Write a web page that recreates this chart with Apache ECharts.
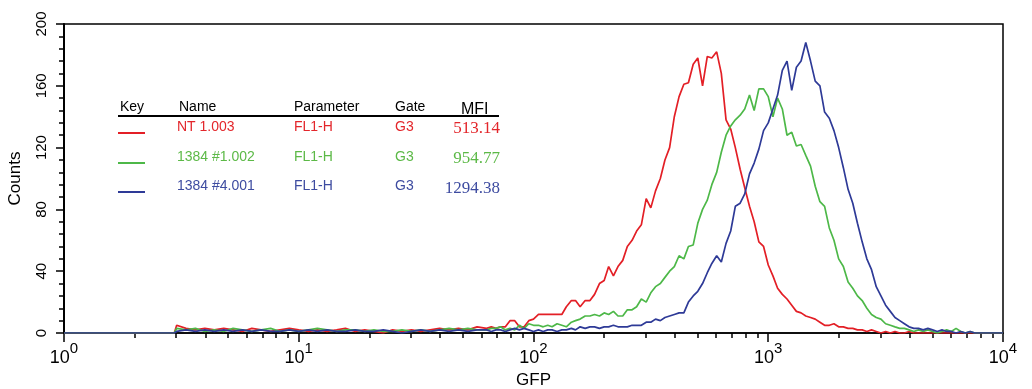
<!DOCTYPE html>
<html>
<head>
<meta charset="UTF-8">
<title>GFP histogram</title>
<script src="https://cdn.jsdelivr.net/npm/echarts@6/dist/echarts.min.js"></script>
<style>
  html, body { margin: 0; padding: 0; background: #fff; }
  #chart { width: 1032px; height: 389px; }
</style>
</head>
<body>
<div id="chart"></div>
<script>
// GFP channel values (log spaced), shared by all three histograms
const gfp = [1, 2.95,
  3.02, 3.31, 3.63, 3.98, 4.37, 4.79, 5.25, 5.75, 6.31, 6.92, 7.59, 8.32, 9.12, 10.0, 11.0, 12.0, 13.2,
  14.5, 15.8, 17.4, 19.1, 20.9, 22.9, 25.1, 27.5, 30.2, 33.1, 36.3, 39.8, 43.7, 47.9, 52.5, 57.5,
  63.1, 66.1, 69.2, 72.4, 75.9, 79.4, 83.2, 87.1, 91.2, 95.5,
  100, 105, 110, 115, 120, 126, 132, 138, 145, 151,
  158, 166, 174, 182, 191, 200, 209, 219, 229, 240,
  251, 263, 275, 288, 302, 316, 331, 347, 363, 380,
  398, 417, 437, 457, 479, 501, 525, 550, 575, 603,
  631, 661, 692, 724, 759, 794, 832, 871, 912, 955,
  1000, 1047, 1096, 1148, 1202, 1259, 1318, 1380, 1445, 1514,
  1585, 1660, 1738, 1820, 1905, 1995, 2089, 2188, 2291, 2399,
  2512, 2630, 2754, 2884, 3020, 3162, 3311, 3467, 3631, 3802,
  3981, 4169, 4365, 4571, 4786, 5012, 5248, 5495, 5754, 6026,
  6310, 6607, 6918, 7244, 7586, 7943,
  10000];

const ntCounts = [0, 0,
  5, 3, 2, 3, 2, 3, 2, 1, 3, 2, 1, 2, 3, 2, 1, 2, 1, 2, 3, 1, 2, 1, 0, 2, 1, 2, 1, 2, 3, 2, 3, 2, 4,
  3, 4, 3, 4, 4, 8, 8, 4, 4, 8,
  9, 12, 12, 12, 12, 12, 12, 17, 21, 21,
  17, 21, 21, 25, 32, 34, 43, 37, 43, 47,
  56, 60, 66, 70, 87, 81, 92, 100, 112, 120,
  140, 153, 161, 162, 174, 178, 160, 179, 178, 182,
  168, 138, 132, 120, 106, 94, 82, 72, 59, 56,
  44, 37, 29, 25, 22, 18, 14, 13, 11, 10,
  9, 7, 5, 5, 6, 4, 4, 3, 3, 2,
  2, 1, 2, 1, 0, 1, 0, 1, 0, 0,
  1, 0, 0, 0, 0, 0, 0, 0, 0, 0,
  0, 0, 0, 0, 0, 0,
  0];

const c1Counts = [0, 0,
  3, 2, 3, 1, 2, 1, 3, 2, 1, 2, 3, 1, 2, 1, 2, 3, 2, 1, 2, 2, 1, 2, 1, 1, 2, 1, 2, 1, 2, 3, 2, 3, 2,
  2, 3, 3, 4, 2, 3, 2, 5, 3, 6,
  5, 5, 4, 5, 4, 6, 5, 4, 7, 8,
  9, 11, 11, 12, 11, 13, 12, 14, 11, 11,
  15, 15, 17, 22, 20, 26, 30, 32, 36, 40,
  43, 50, 48, 56, 57, 71, 80, 86, 96, 104,
  117, 128, 134, 138, 141, 145, 154, 144, 158, 158,
  153, 140, 152, 145, 128, 130, 121, 122, 115, 108,
  95, 85, 82, 68, 60, 48, 43, 33, 29, 24,
  21, 16, 12, 10, 9, 6, 5, 4, 3, 3,
  2, 1, 2, 1, 2, 1, 0, 1, 2, 1,
  3, 1, 0, 1, 0, 0,
  0];

const c4Counts = [0, 0,
  1, 2, 1, 2, 1, 2, 1, 2, 1, 2, 1, 1, 2, 1, 2, 1, 2, 1, 1, 2, 1, 1, 2, 1, 0, 1, 2, 1, 2, 1, 2, 1, 2,
  2, 1, 2, 2, 1, 2, 3, 2, 3, 2,
  1, 2, 1, 2, 2, 1, 2, 2, 3, 2,
  4, 3, 4, 4, 3, 4, 4, 5, 4, 4,
  4, 5, 5, 5, 7, 7, 9, 8, 10, 11,
  12, 13, 13, 20, 24, 27, 32, 39, 45, 50,
  46, 58, 66, 82, 84, 90, 103, 110, 119, 131,
  136, 145, 154, 170, 176, 157, 172, 176, 188, 176,
  163, 160, 143, 139, 131, 120, 107, 93, 84, 71,
  59, 48, 41, 30, 24, 18, 14, 10, 8, 6,
  4, 3, 3, 2, 3, 2, 1, 2, 1, 1,
  0, 1, 0, 1, 0, 0,
  0];

const minorTicks = [2, 3, 4, 5, 6, 7, 8, 9, 20, 30, 40, 50, 60, 70, 80, 90,
  200, 300, 400, 500, 600, 700, 800, 900, 2000, 3000, 4000, 5000, 6000, 7000, 8000, 9000];

// legend table
const names = ['NT 1.003', '1384 #1.002', '1384 #4.001'];
const params = ['FL1-H', 'FL1-H', 'FL1-H'];
const gates = ['G3', 'G3', 'G3'];
const mfi = ['513.14', '954.77', '1294.38'];
const lineColors = ['#e31f26', '#4db848', '#2e3a97'];
const textColors = ['#e3262b', '#5cb947', '#3d4ba0'];

const chart = echarts.init(document.getElementById('chart'));

const SANS = '"Liberation Sans", Arial, sans-serif';
const SERIF = '"Liberation Serif", "Times New Roman", serif';

function mkSeries(counts, i) {
  return {
    type: 'line',
    xAxisIndex: 0,
    data: gfp.map((g, k) => [g, counts[k]]),
    showSymbol: false,
    lineStyle: { color: lineColors[i], width: 1.7 },
    itemStyle: { color: lineColors[i] },
    z: 2 + i
  };
}

const rowY = [127, 157, 186];
const mfiY = [129, 159, 189];
const keyY = [133, 163, 192];
const graphics = [];
[['Key', 120], ['Name', 179], ['Parameter', 294], ['Gate', 395]].forEach(h => {
  graphics.push({ type: 'text', x: h[1], y: 107,
    style: { text: h[0], fill: '#000', font: '14px ' + SANS, verticalAlign: 'middle' } });
});
graphics.push({ type: 'text', x: 461, y: 110,
  style: { text: 'MFI', fill: '#000', font: '16px ' + SANS, verticalAlign: 'middle' } });
graphics.push({ type: 'line', shape: { x1: 118, y1: 116, x2: 499, y2: 116 },
  style: { stroke: '#000', lineWidth: 2 } });
names.forEach((n, i) => {
  graphics.push({ type: 'line', shape: { x1: 118, y1: keyY[i], x2: 145, y2: keyY[i] },
    style: { stroke: lineColors[i], lineWidth: 2 } });
  graphics.push({ type: 'text', x: 177, y: rowY[i],
    style: { text: n, fill: textColors[i], font: '14px ' + SANS, verticalAlign: 'middle' } });
  graphics.push({ type: 'text', x: 294, y: rowY[i],
    style: { text: params[i], fill: textColors[i], font: '14px ' + SANS, verticalAlign: 'middle' } });
  graphics.push({ type: 'text', x: 395, y: rowY[i],
    style: { text: gates[i], fill: textColors[i], font: '14px ' + SANS, verticalAlign: 'middle' } });
  graphics.push({ type: 'text', x: 500, y: mfiY[i],
    style: { text: mfi[i], fill: textColors[i], font: '17px ' + SERIF,
      align: 'right', verticalAlign: 'middle' } });
});

chart.setOption({
  animation: false,
  backgroundColor: '#fff',
  grid: { left: 64, right: 29, top: 24, bottom: 56, show: true, outerBoundsMode: 'none',
    borderColor: '#000', borderWidth: 1.5 },
  xAxis: [{
    type: 'log', logBase: 10, min: 1, max: 10000,
    name: 'GFP', nameLocation: 'middle', nameGap: 37,
    nameTextStyle: { color: '#000', fontSize: 17, fontFamily: SANS },
    axisLine: { lineStyle: { color: '#000', width: 1.5 } },
    axisTick: { length: 9, lineStyle: { color: '#000', width: 1.5 } },
    splitLine: { show: false },
    axisLabel: {
      margin: 8, showMinLabel: true, showMaxLabel: true,
      formatter: v => '{b|10}{s|' + Math.round(Math.log10(v)) + '}',
      rich: {
        b: { fontSize: 18, lineHeight: 26, verticalAlign: 'bottom', color: '#000', fontFamily: SANS },
        s: { fontSize: 15, lineHeight: 26, verticalAlign: 'top', color: '#000', fontFamily: SANS }
      }
    }
  }, {
    type: 'log', logBase: 10, min: 1, max: 10000, position: 'bottom',
    axisLine: { show: false },
    axisTick: { show: true, customValues: minorTicks, length: 5,
      lineStyle: { color: '#000', width: 1.5 } },
    axisLabel: { show: false },
    splitLine: { show: false }
  }],
  yAxis: {
    type: 'value', min: 0, max: 200, interval: 40,
    name: 'Counts', nameLocation: 'middle', nameGap: 40, nameRotate: 90,
    nameTextStyle: { color: '#000', fontSize: 17, fontFamily: SANS },
    axisLine: { show: true, lineStyle: { color: '#000', width: 2 } },
    axisTick: { length: 8, lineStyle: { color: '#000', width: 1.5 } },
    minorTick: { show: true, splitNumber: 5, length: 5, lineStyle: { color: '#000', width: 1.5 } },
    splitLine: { show: false },
    axisLabel: { rotate: 90, margin: 15, fontSize: 15, color: '#000', fontFamily: SANS }
  },
  graphic: graphics,
  series: [mkSeries(ntCounts, 0), mkSeries(c1Counts, 1), mkSeries(c4Counts, 2)]
});
</script>
</body>
</html>
